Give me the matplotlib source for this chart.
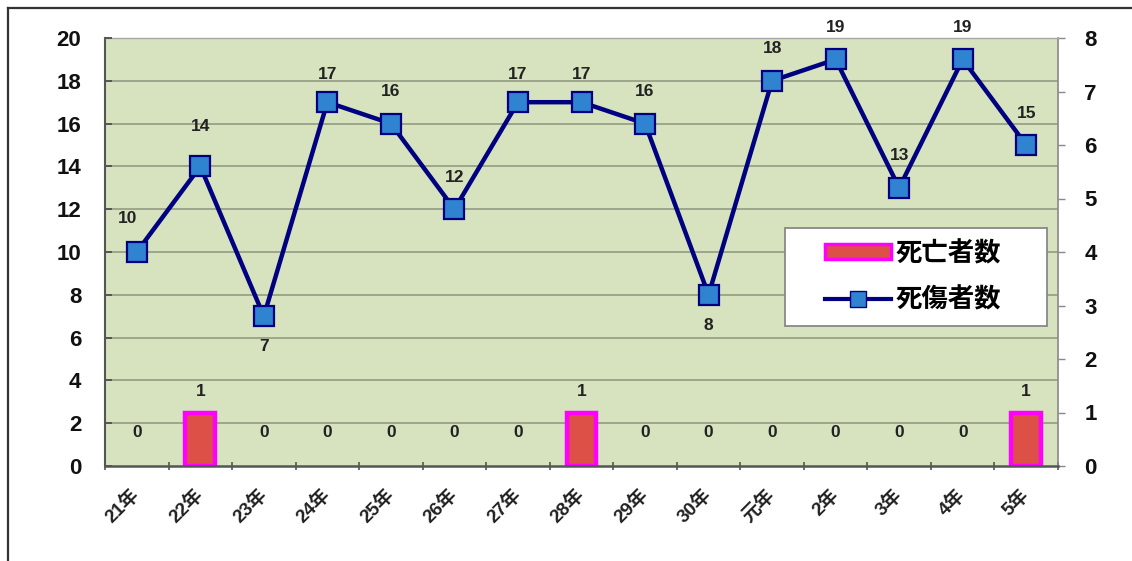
import matplotlib
matplotlib.use("Agg")
import matplotlib.pyplot as plt
import numpy as np
from matplotlib.patches import Patch, Rectangle
from matplotlib.lines import Line2D

plt.rcParams['font.family'] = ['Liberation Sans', 'Noto Sans CJK JP', 'DejaVu Sans']

categories = ['21年', '22年', '23年', '24年', '25年', '26年', '27年', '28年',
              '29年', '30年', '元年', '2年', '3年', '4年', '5年']
casualties = [10, 14, 7, 17, 16, 12, 17, 17, 16, 8, 18, 19, 13, 19, 15]   # 死傷者数 (left axis)
deaths = [0, 1, 0, 0, 0, 0, 0, 1, 0, 0, 0, 0, 0, 0, 1]                    # 死亡者数 (right axis)
left_ticks = list(range(0, 21, 2))
right_ticks = list(range(0, 9))

# label offsets in points (dx, dy) for the casualty labels
lab_off = [(-6.5, 24), (0, 29), (0, -22), (0, 20), (0, 23), (0, 23), (0, 20), (0, 20),
           (0, 23), (0, -22), (0, 23), (0, 23), (0, 23), (0, 23), (0, 23)]

W, H = 1132, 561
fig = plt.figure(figsize=(W / 100, H / 100), dpi=100)

# outer frame (top and left)
fig.add_artist(Line2D([8 / W, 1.0], [1 - 8 / H, 1 - 8 / H], color='#333333', lw=1.6, transform=fig.transFigure))
fig.add_artist(Line2D([8 / W, 8 / W], [0, 1 - 8 / H], color='#333333', lw=1.6, transform=fig.transFigure))

AX_L, AX_R, AX_T, AX_B = 105, 1058, 38, 466
pos = [AX_L / W, (H - AX_B) / H, (AX_R - AX_L) / W, (AX_B - AX_T) / H]
ax2 = fig.add_axes(pos)            # bars, right scale (behind)
ax = fig.add_axes(pos, sharex=ax2)  # line, left scale (front)
ax.set_zorder(2)
ax.patch.set_visible(False)
ax2.set_facecolor('#D6E3BE')

x = np.arange(len(categories))
ax2.set_xlim(-0.5, len(categories) - 0.5)
ax.set_ylim(0, 20)
ax2.set_ylim(0, 8)

# gridlines on back axes at left ticks
for v in left_ticks[1:]:
    ax2.axhline(v * 8 / 20, color='#9DA58A', lw=1.4, zorder=0.5)

bar_lw = [3.2 if d else 0 for d in deaths]
ax2.bar(x, deaths, width=0.47, color='#DC5048', edgecolor='#FF00FF', linewidth=bar_lw, zorder=2)

ax.plot(x, casualties, color='#000080', lw=3.2, marker='s', markersize=14,
        markerfacecolor='#2F83D0', markeredgecolor='#000080', markeredgewidth=1.6, zorder=3)

lab_font = dict(fontsize=12.5, fontweight='bold', color='#222222', ha='center', va='center')
for i, v in enumerate(casualties):
    ax.annotate(str(v), (x[i], v), xytext=lab_off[i], textcoords='offset points', **lab_font)
for i, v in enumerate(deaths):
    dy = 24 if v == 0 else 15
    ax2.annotate(str(v), (x[i], v), xytext=(0, dy), textcoords='offset points', **lab_font)

# axes styling
ax.set_yticks(left_ticks)
ax2.set_yticks(right_ticks)
ax.yaxis.tick_left()
ax2.yaxis.tick_right()
for a in (ax, ax2):
    for s in a.spines.values():
        s.set_visible(False)
for side, col, lw in [('bottom', '#555555', 1.8), ('left', '#555555', 1.5),
                      ('right', '#888888', 1.2), ('top', '#A8A8A8', 1.0)]:
    ax2.spines[side].set_visible(True)
    ax2.spines[side].set_color(col)
    ax2.spines[side].set_linewidth(lw)

ax.tick_params(axis='y', which='major', direction='in', length=5, width=1.4, color='#555555',
               pad=17, labelsize=16, labelcolor='#111111')
for t in ax.get_yticklabels():
    t.set_fontweight('bold')
ax2.tick_params(axis='y', which='major', direction='out', length=5, width=1, color='#888888',
                pad=14, labelsize=16, labelcolor='#111111')
for t in ax2.get_yticklabels():
    t.set_fontweight('bold')

# x ticks: boundaries as marks, centres as labels
ax2.set_xticks(np.arange(-0.5, len(categories), 1.0))
ax2.tick_params(axis='x', which='major', direction='inout', length=6, width=1.2, color='#555555', labelbottom=False)
ax2.set_xticks(x, minor=True)
ax2.set_xticklabels(categories, minor=True)
ax2.tick_params(axis='x', which='minor', length=0, pad=19, labelsize=13.5)
for t in ax2.get_xticklabels(minor=True):
    t.set_rotation(45)
    t.set_ha('right')
    t.set_va('center')
    t.set_rotation_mode('anchor')
    t.set_fontweight('bold')
    t.set_color('#222222')
ax.tick_params(axis='x', which='both', bottom=False, labelbottom=False)

# legend: frame drawn as a rectangle, entries centred inside it
LG_L, LG_R, LG_T, LG_B = 785, 1047, 228, 326
def ax_frac(px, py):
    return ((px - AX_L) / (AX_R - AX_L), (AX_B - py) / (AX_B - AX_T))
x0, y0 = ax_frac(LG_L, LG_B)
x1, y1 = ax_frac(LG_R, LG_T)
ax.add_patch(Rectangle((x0, y0), x1 - x0, y1 - y0, transform=ax.transAxes,
                       facecolor='white', edgecolor='#888888', linewidth=1.3, zorder=4))
handles = [Patch(facecolor='#DC5048', edgecolor='#FF00FF', linewidth=2.5),
           Line2D([], [], color='#000080', lw=3, marker='s', markersize=11,
                  markerfacecolor='#2F83D0', markeredgecolor='#000080')]
leg = ax.legend(handles, ['死亡者数', '死傷者数'], loc='center',
                bbox_to_anchor=((x0 + x1) / 2 - 0.003, (y0 + y1) / 2),
                frameon=False,
                prop={'family': ['Noto Sans CJK JP'], 'size': 19, 'weight': 'bold'},
                handlelength=2.5, handleheight=0.5, labelspacing=0.75,
                handletextpad=0.15, borderaxespad=0)
leg.set_zorder(5)

fig.savefig('out.png', dpi=100)
